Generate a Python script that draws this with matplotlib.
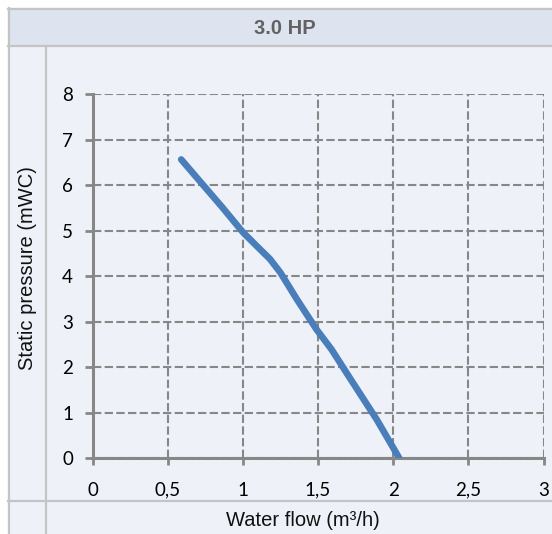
import matplotlib.pyplot as plt
from matplotlib.patches import Rectangle
from matplotlib.lines import Line2D

W, H = 552, 534

# curve
flow = [0.59, 0.86, 1.0, 1.1, 1.18, 1.25, 1.36, 1.49, 1.59, 1.71, 1.89, 2.04]
pressure = [6.57, 5.53, 4.97, 4.64, 4.38, 4.08, 3.49, 2.83, 2.39, 1.77, 0.85, 0.0]

x_ticks = [0, 0.5, 1, 1.5, 2, 2.5, 3]
x_labels = ["0", "0,5", "1", "1,5", "2", "2,5", "3"]
y_ticks = [0, 1, 2, 3, 4, 5, 6, 7, 8]

title = "3.0 HP"
x_title = "Water flow (m³/h)"
y_title = "Static pressure (mWC)"

header_col = "#dde3ef"
panel_col = "#eef2f8"
border_col = "#c4c4c4"
grid_col = "#878787"
line_col = "#4a7ebb"


def fx(x):
    return x / W


def fy(y):
    return 1 - y / H


fig = plt.figure(figsize=(W / 100, H / 100), dpi=100, facecolor="white")

# table background
fig.add_artist(Rectangle((fx(8), fy(46)), fx(W - 8), (38) / H,
                         transform=fig.transFigure, color=header_col, zorder=0))
fig.add_artist(Rectangle((fx(8), 0), fx(W - 8), fy(46),
                         transform=fig.transFigure, color=panel_col, zorder=0))

# table lines
for xs, ys in [((8, W), (8.5, 8.5)), ((8, W), (46, 46)), ((8.5, 8.5), (8, H)),
               ((45.5, 45.5), (46, H)), ((8, W), (500.5, 500.5))]:
    fig.add_artist(Line2D([fx(xs[0]), fx(xs[1])], [fy(ys[0]), fy(ys[1])],
                          transform=fig.transFigure, color=border_col, lw=1.6, zorder=1))

fig.text(fx(285), fy(28), title, ha="center", va="center", fontsize=14.5,
         fontweight="bold", color="#626262", family="Liberation Sans")
fig.text(fx(303), fy(520), x_title, ha="center", va="center", fontsize=14.5,
         color="#111111", family="Liberation Sans")
fig.text(fx(28), fy(268), y_title, ha="center", va="center", fontsize=14.5,
         rotation=90, color="#111111", family="Liberation Sans")

ax = fig.add_axes([fx(92.5), fy(458), (543.5 - 92.5) / W, (458 - 94.5) / H])
ax.set_facecolor("none")
ax.plot(flow, pressure, color=line_col, lw=4.8, solid_capstyle="round",
        solid_joinstyle="round", zorder=3)

ax.set_xlim(0, 3)
ax.set_ylim(0, 8)
ax.set_xticks(x_ticks)
ax.set_xticklabels(x_labels)
ax.set_yticks(y_ticks)
ax.grid(True, color=grid_col, lw=1.5, linestyle=(0, (4, 1.6)))
ax.set_axisbelow(True)

for s in ["top", "right"]:
    ax.spines[s].set_visible(False)
for s in ["left", "bottom"]:
    ax.spines[s].set_color(grid_col)
    ax.spines[s].set_linewidth(2.2)
    ax.spines[s].set_zorder(2)

ax.tick_params(axis="x", length=5, width=2, color=grid_col, pad=12, labelsize=13.5)
ax.tick_params(axis="y", length=6, width=2, color=grid_col, pad=8, labelsize=13.5)
for lab in ax.get_xticklabels() + ax.get_yticklabels():
    lab.set_family("Lato")

fig.savefig("out.png", dpi=100, facecolor="white")
